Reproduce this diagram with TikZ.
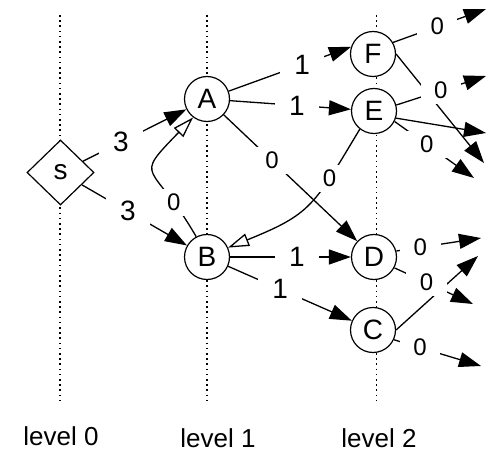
\documentclass[tikz,border=0pt]{standalone}
\usepackage{fontspec}
\setmainfont{Liberation Sans}
\usetikzlibrary{arrows.meta,shapes.geometric}
\begin{document}
\begin{tikzpicture}[x=1pt,y=1pt,
  state/.style={circle,draw,fill=white,minimum size=45pt,inner sep=0pt,
    line width=1.2pt,font=\fontsize{28}{30}\selectfont},
  source/.style={diamond,draw,fill=white,minimum width=67pt,minimum height=65pt,
    inner sep=0pt,line width=1.2pt,font=\fontsize{28}{30}\selectfont},
  wbig/.style={fill=white,inner xsep=14pt,inner ysep=5pt,outer sep=0pt,
    font=\fontsize{28}{30}\selectfont},
  wsmall/.style={fill=white,inner xsep=13.5pt,inner ysep=5pt,outer sep=0pt,
    font=\fontsize{24}{26}\selectfont},
  edge/.style={line width=1.3pt,-{Triangle[length=22pt,width=15pt]}},
  backedge/.style={line width=1.3pt,-{Triangle[open,length=21pt,width=13pt]}},
  levelline/.style={dash pattern=on 1.6pt off 3.6pt,line width=1.4pt},
  levellabel/.style={inner sep=0pt,font=\fontsize{26}{28}\selectfont}
]
\useasboundingbox (0,0) rectangle (491,-452);

% level guide lines
\draw[levelline] (60,-15) -- (60,-405);
\draw[levelline] (207,-15) -- (207,-405);
\draw[levelline] (376.5,-15) -- (376.5,-405);

% vertices
\node[source] (s) at (60.5,-172.5) {s};
\node[state] (A) at (207,-99) {A};
\node[state] (B) at (207,-257) {B};
\node[state] (F) at (373,-54) {F};
\node[state] (E) at (374,-111) {E};
\node[state] (D) at (374,-257) {D};
\node[state] (C) at (373,-330) {C};

% open ends of the outgoing edges of level 2
\coordinate (tF1) at (486,-9);
\coordinate (tE1) at (486,-76);
\coordinate (tEl) at (486,-133);
\coordinate (tF2) at (484,-163);
\coordinate (tE2) at (474,-178);
\coordinate (tD1) at (481,-238);
\coordinate (tC1) at (478,-256);
\coordinate (tD2) at (473,-304);
\coordinate (tC2) at (481,-366);

% unlabelled edges first, so that label boxes break them
\draw[edge] (F.0) -- (tF2);
\draw[edge] (E.-18) -- (tEl);
\draw[edge] (C.0) -- (tC1);

% level 0 -> level 1
\draw[edge] (s) -- node[wbig,pos=0.368] (l1) {3} (A);
\draw[edge] (s) -- node[wbig,pos=0.437] (l2) {3} (B);

% level 1 -> level 2
\draw[edge] (A) -- node[wbig,pos=0.60] (l3) {1} (F.162);
\draw[edge] (A) -- node[wbig,pos=0.553] (l4) {1} (E);
\draw[edge] (A) -- node[wsmall,pos=0.362] (l5) {0} (D);
\draw[edge] (B) -- node[wbig,pos=0.553] (l6) {1} (D);
\draw[edge] (B) -- node[wbig,pos=0.42] (l7) {1} (C);

% back edges
\draw[backedge] (B.118) to[out=120,in=226,looseness=1.9]
  node[wsmall,pos=0.19] (l8) {0} (A.233);
\draw[backedge] (E.232) to[out=239,in=22,looseness=1.3]
  node[wsmall,pos=0.27] (l9) {0} (B.24);

% level 2 -> beyond
\draw[edge] (F.30) -- node[wsmall,pos=0.476] (l10) {0} (tF1);
\draw[edge] (E.15) -- node[wsmall,pos=0.496] (l11) {0} (tE1);
\draw[edge] (E.-27) -- node[wsmall,pos=0.405] (l12) {0} (tE2);
\draw[edge] (D.15) -- node[wsmall,pos=0.284] (l13) {0} (tD1);
\draw[edge] (D.-28) -- node[wsmall,pos=0.41] (l14) {0} (tD2);
\draw[edge] (C.-25) -- node[wsmall,pos=0.30] (l15) {0} (tC2);

% level captions
\node[levellabel] (cap0) at (61,-436) {level 0};
\node[levellabel] (cap1) at (218,-438) {level 1};
\node[levellabel] (cap2) at (379,-438) {level 2};
\end{tikzpicture}
\end{document}
